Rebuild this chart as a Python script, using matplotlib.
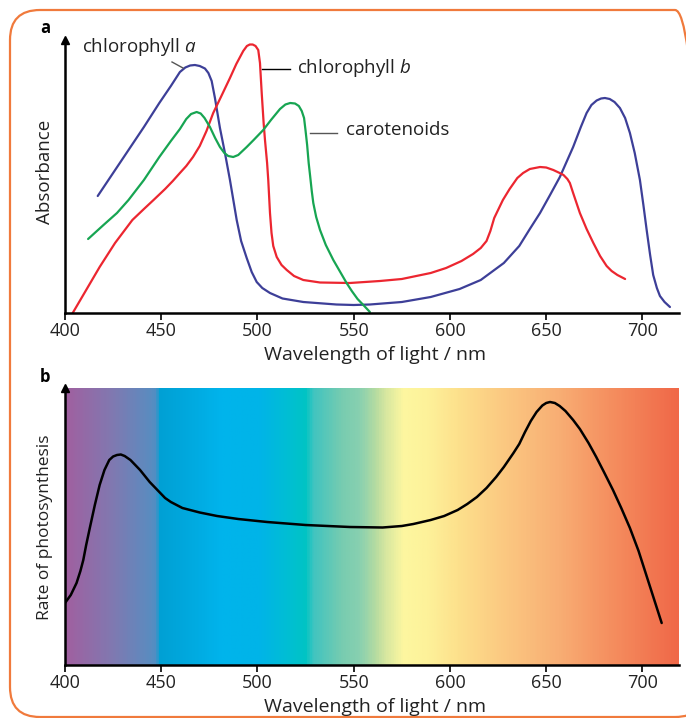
import numpy as np
import matplotlib
matplotlib.use("Agg")
import matplotlib.pyplot as plt
from matplotlib.colors import LinearSegmentedColormap
from matplotlib.patches import FancyBboxPatch

plt.rcParams['font.family'] = ['Open Sans', 'DejaVu Sans']
plt.rcParams['mathtext.fontset'] = 'custom'
plt.rcParams['mathtext.rm'] = 'Open Sans'
plt.rcParams['mathtext.it'] = 'Open Sans:italic'

# ---------------- data (panel a: absorbance, arbitrary units) ----------------
chl_a_nm = [417, 425, 433, 441, 449, 455, 459.7, 462.5, 465, 467.5, 470, 472.7, 474.5, 476.2,
            477.9, 480.5, 483.1, 485.7, 489.2, 491.5, 494.4, 497, 499.6, 502.5, 506.5, 513,
            523.8, 541, 550, 558.4, 575, 590, 605, 616, 628, 636, 641.5, 646.8, 652, 657.1,
            664, 668, 671, 673.5, 676.2, 678.5, 680.5, 683, 685.5, 688.3, 691, 693.5, 696,
            698.7, 700.5, 702.2, 704, 705.6, 707.5, 709.1, 711.5, 714.3]
chl_a_abs = [117, 140, 163, 186, 210, 227, 241, 245.5, 247.5, 248, 247, 244.5, 240, 232,
             215, 185, 160, 133, 93, 72, 55, 41, 31, 25, 20, 14.5,
             11, 8.5, 8, 8.5, 11, 16, 24, 33, 50, 67, 84, 100, 118, 136,
             166, 186, 200, 208, 212.5, 214.5, 215, 214, 211, 205, 195, 180, 160,
             133, 108, 83, 58, 38, 25, 17, 11, 6]

chl_b_nm = [404, 411, 418, 426, 435, 441, 446, 452, 456, 459.7, 463, 466.5, 470, 473.5, 477,
            481, 485.7, 489, 492.6, 494.5, 496, 497.5, 499, 500.4, 501.3, 502.2, 503.2, 503.9,
            505, 505.6, 506.5, 507.3, 508.2, 510, 512.5, 515.2, 519, 523.8, 532.5, 548,
            563.6, 575, 590, 598, 606, 612, 616, 619, 621, 623, 627.5, 631, 635, 638, 641.5,
            646.8, 650, 653.7, 657, 659, 661, 662.3, 664, 667.5, 671, 674.5, 678, 681.4, 684,
            687, 691]
chl_b_abs = [0, 23, 46, 70, 93, 104, 113, 124, 132, 140, 147, 156, 167, 182, 200,
             216, 235, 249, 262, 267, 268.5, 268.5, 267, 263, 250, 220, 190, 173,
             150, 133, 100, 80, 67, 56, 48, 43, 37, 33, 30.5, 30,
             32, 34, 40, 45, 52, 59, 65, 72, 82, 95, 113, 124, 135, 140, 144,
             146, 145.5, 143, 140, 138, 134, 130, 120, 100, 84, 70, 57, 47, 42,
             38, 34]

car_nm = [412, 420, 427, 433, 441, 449, 455, 459.7, 463, 465.5, 468.4, 470.5, 472.5, 475.3,
          478, 480.5, 482.8, 484.8, 487.4, 490, 494.4, 498, 503, 507, 511.7, 514.5, 517,
          519.5, 521.5, 523, 524.2, 525, 525.8, 526.6, 527.3, 528.2, 529, 530.5, 532.5,
          535.5, 539.4, 543, 546.3, 549, 552, 555, 558.4]
car_abs = [74, 88, 100, 113, 133, 156, 172, 184, 194, 199, 201, 199.5, 195, 186,
           175, 166, 160, 157, 156, 158, 166, 173, 183, 193, 204, 208.5, 210,
           209.5, 207, 202, 195, 182, 168, 150, 138, 122, 110, 96, 83,
           68, 53, 41, 30, 22, 14, 8, 1]

# ---------------- data (panel b: action spectrum) ----------------
rate_nm = [400, 403, 406, 408, 409.5, 411, 413, 415.5, 418, 420.5, 423, 425, 427, 429, 431,
           434, 436.5, 439, 444, 449, 452, 455, 458, 461, 465, 470, 479, 490, 505, 525, 548,
           565, 575, 581, 590, 597, 604, 609, 614, 619, 624, 628, 633, 636, 639, 642, 645,
           648, 650, 652, 654.5, 657, 660, 664, 667.5, 672, 676, 680, 684.7, 689, 693.5,
           698, 702, 706, 710]
rate_val = [62, 70, 82, 94, 105, 120, 138, 160, 180, 195, 205, 208.5, 210, 210.5, 209,
            205, 200, 195, 183, 173, 167, 163, 160, 157, 155, 152.5, 149, 146, 143, 140, 138,
            137.5, 139, 141, 145, 149, 155, 161, 168, 177, 188, 198, 212, 221, 233, 244, 253,
            259.5, 262, 263, 262, 259, 254, 245, 236, 222, 208, 193, 175, 157, 137,
            114, 90, 66, 42]

xticks = [400, 450, 500, 550, 600, 650, 700]

# spectrum background colour stops (wavelength, colour)
spec_nm = [400, 423, 444, 447, 448.5, 466, 481, 501, 518, 525, 529, 544, 553, 562, 566,
           576, 588, 605, 631, 657, 683, 719]
spec_col = ['#a060a0', '#8278b0', '#5a8cc0', '#4d8fc4', '#00a0d4', '#00aae0', '#00b4ec',
            '#00b4e8', '#00c0d0', '#00c4c4', '#40c4c0', '#78ccb0', '#88d0b0', '#b8dca0',
            '#d4e6a0', '#fdf7a0', '#fdf29a', '#fde08c', '#fbc680', '#f8ae74', '#f59060',
            '#f06848']

XMIN, XMAX = 400, 719

W, H = 686, 718
fig = plt.figure(figsize=(W / 100, H / 100), dpi=100)

def fx(px):
    return px / W

def fy(py):
    return 1 - py / H

# border (display pixel coordinates, origin bottom-left)
border = FancyBboxPatch((10, H - 717), 705 - 10, 717 - 10,
                        boxstyle="round,pad=0,rounding_size=30",
                        transform=None, fill=False, edgecolor='#f07a3c',
                        linewidth=1.6)
fig.patches.append(border)

ax_a = fig.add_axes([fx(65), fy(313), fx(679) - fx(65), fy(40) - fy(313)])
ax_b = fig.add_axes([fx(65), fy(665), fx(679) - fx(65), fy(388) - fy(665)])

for ax in (ax_a, ax_b):
    ax.set_xlim(XMIN, XMAX)
    for s in ('top', 'right'):
        ax.spines[s].set_visible(False)
    ax.spines['left'].set_linewidth(1.8)
    ax.spines['bottom'].set_linewidth(1.8)
    ax.set_yticks([])
    ax.set_xticks(xticks)
    ax.set_xticklabels([str(t) for t in xticks])
    ax.tick_params(axis='x', direction='out', length=5, width=1.2, pad=1.5,
                   labelsize=13, labelcolor='#222222')
    ax.plot([0], [1], marker='^', color='black', markersize=6, transform=ax.transAxes,
            clip_on=False, zorder=5)
    ax.patch.set_alpha(0)

# panel a
ax_a.set_ylim(0, 273)
ax_a.plot(chl_a_nm, chl_a_abs, color='#3d3f98', lw=1.6, solid_capstyle='round',
          solid_joinstyle='round')
ax_a.plot(chl_b_nm, chl_b_abs, color='#ec2630', lw=1.6, solid_capstyle='round',
          solid_joinstyle='round')
ax_a.plot(car_nm, car_abs, color='#17a552', lw=1.6, solid_capstyle='round',
          solid_joinstyle='round')

ax_a.text(408.8, 266, 'chlorophyll $\\mathit{a}$', fontsize=13.5, ha='left', va='center',
          color='#222222')
ax_a.plot([455.6, 461.3], [251, 245], color='#555555', lw=1.0)
ax_a.text(520.5, 245, 'chlorophyll $\\mathit{b}$', fontsize=13.5, ha='left', va='center',
          color='#222222')
ax_a.plot([502.3, 516.9], [244, 244], color='black', lw=1.0)
ax_a.text(546, 183, 'carotenoids', fontsize=13.5, ha='left', va='center', color='#222222')
ax_a.plot([527.3, 541.3], [180, 180], color='#555555', lw=1.0)

# panel b
cmap = LinearSegmentedColormap.from_list(
    'spec', [((n - XMIN) / (XMAX - XMIN), c) for n, c in zip(spec_nm, spec_col)])
grad = np.linspace(XMIN, XMAX, 700)[None, :]
ax_b.imshow(grad, cmap=cmap, vmin=XMIN, vmax=XMAX, extent=[XMIN, XMAX, 0, 277],
            aspect='auto', interpolation='bilinear', zorder=0)
ax_b.set_xlim(XMIN, XMAX)
ax_b.set_ylim(0, 277)
ax_b.plot(rate_nm, rate_val, color='black', lw=1.8, solid_capstyle='round',
          solid_joinstyle='round', zorder=3)

# labels
fig.text(fx(40), fy(28), 'a', fontsize=12, fontweight='bold', ha='left', va='center')
fig.text(fx(40), fy(377), 'b', fontsize=12, fontweight='bold', ha='left', va='center')
fig.text(fx(45), fy(172), 'Absorbance', rotation=90, fontsize=13.5, ha='center',
         va='center', color='#222222')
fig.text(fx(45), fy(527), 'Rate of photosynthesis', rotation=90, fontsize=12.5,
         ha='center', va='center', color='#222222')
fig.text(fx(375), fy(355), 'Wavelength of light / nm', fontsize=14, ha='center',
         va='center', color='#222222')
fig.text(fx(375), fy(707), 'Wavelength of light / nm', fontsize=14, ha='center',
         va='center', color='#222222')

fig.savefig('out.png', dpi=100)
